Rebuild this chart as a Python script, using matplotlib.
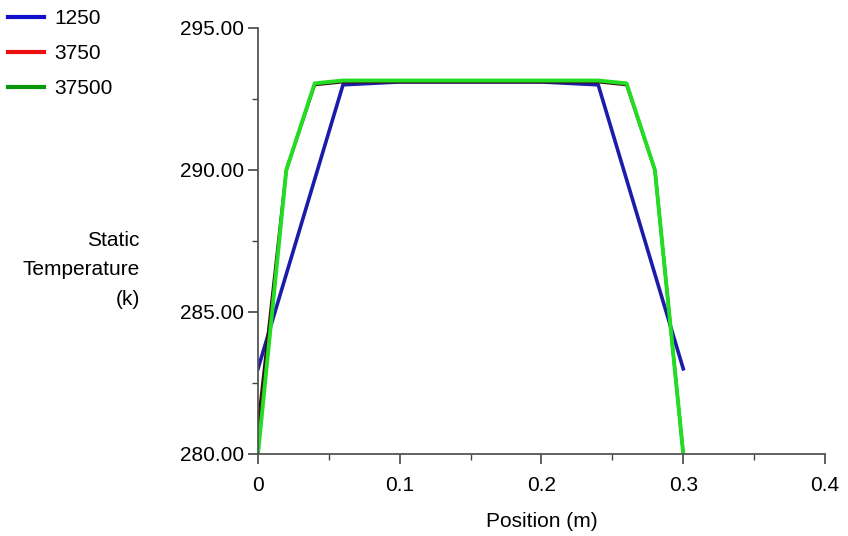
import matplotlib.pyplot as plt
from matplotlib.lines import Line2D
from matplotlib.ticker import MultipleLocator, FormatStrFormatter

plt.rcParams['font.family'] = ['Liberation Sans', 'DejaVu Sans']

# series: static temperature along position
labels = ['1250', '3750', '37500']
x_1250 = [0.0, 0.06, 0.1, 0.2, 0.24, 0.3]
t_1250 = [283.0, 293.0, 293.1, 293.1, 293.0, 283.0]
x_3750 = [0.0, 0.02, 0.04, 0.06, 0.24, 0.26, 0.28, 0.3]
t_3750 = [281.0, 290.0, 293.0, 293.1, 293.1, 293.0, 290.0, 280.0]
x_37500 = [0.0, 0.02, 0.04, 0.06, 0.24, 0.26, 0.28, 0.3]
t_37500 = [280.0, 290.0, 293.05, 293.15, 293.15, 293.05, 290.0, 280.0]

fig = plt.figure(figsize=(8.48, 5.36), dpi=100)
ax = fig.add_axes([0.3042, 0.153, 0.6687, 0.7948])

ax.plot(x_1250, t_1250, color='#1c1caa', lw=2.6)
ax.plot(x_3750, t_3750, color='#3a1010', lw=2.2)
ax.plot(x_37500, t_37500, color='#22dd22', lw=2.8)

ax.set_xlim(0, 0.4)
ax.set_ylim(280, 295)
ax.xaxis.set_major_locator(MultipleLocator(0.1))
ax.xaxis.set_minor_locator(MultipleLocator(0.05))
ax.yaxis.set_major_locator(MultipleLocator(5))
ax.yaxis.set_minor_locator(MultipleLocator(2.5))
ax.yaxis.set_major_formatter(FormatStrFormatter('%.2f'))
ax.xaxis.set_major_formatter(FormatStrFormatter('%g'))

for s in ['top', 'right']:
    ax.spines[s].set_visible(False)
for s in ['left', 'bottom']:
    ax.spines[s].set_color('#555555')
    ax.spines[s].set_linewidth(1.3)
ax.tick_params(which='major', length=7, width=1.2, color='#444444',
               labelsize=15, pad=3)
ax.tick_params(axis='x', which='major', pad=9)
ax.tick_params(which='minor', length=4, width=1.0, color='#444444')

ax.set_xlabel('Position (m)', fontsize=15, labelpad=12)
fig.text(0.165, 0.497, 'Static\nTemperature\n(k)', ha='right', va='center',
         fontsize=15, linespacing=1.7)

handles = [Line2D([], [], color='#1010cc', lw=3),
           Line2D([], [], color='#ee1010', lw=3),
           Line2D([], [], color='#0a960a', lw=3)]
fig.legend(handles, labels, loc='upper left', bbox_to_anchor=(0.0, 0.999),
           frameon=False, fontsize=15, handlelength=1.7, handletextpad=0.5,
           labelspacing=0.78, borderpad=0.2, borderaxespad=0.2)

fig.savefig('out.png', dpi=100)
